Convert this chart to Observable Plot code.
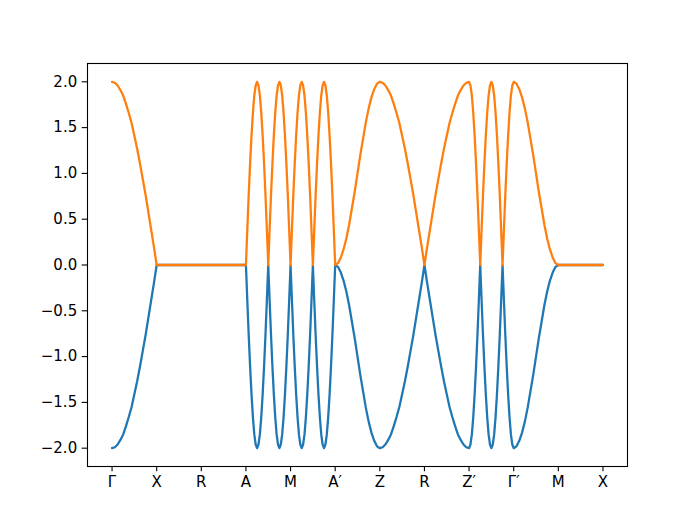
<!DOCTYPE html>
<html>
<head>
<meta charset="utf-8">
<script src="https://cdn.jsdelivr.net/npm/d3@7"></script>
<script src="https://cdn.jsdelivr.net/npm/@observablehq/plot@0.6"></script>
<style>
  html, body { margin: 0; padding: 0; background: white; }
</style>
</head>
<body>
<div id="chart"></div>
<script>
// High-symmetry path labels (one per tick, equally spaced)
const tickLabels = ["Γ", "X", "R", "A", "M", "A′", "Z", "R", "Z′", "Γ′", "M", "X"];
const yTicks = [-2, -1.5, -1, -0.5, 0, 0.5, 1, 1.5, 2];

// Upper band (orange): values along each path segment, evenly sampled within the segment
const upperBand = [
  [2.00,1.99,1.96,1.91,1.85,1.76,1.66,1.55,1.41,1.27,1.11,0.94,0.77,0.58,0.39,0.20,0.00],
  [0.00,0.00],
  [0.00,0.00],
  [0.00,0.39,0.77,1.11,1.41,1.66,1.85,1.96,2.00,1.96,1.85,1.66,1.41,1.11,0.77,0.39,0.00,0.39,0.77,1.11,1.41,1.66,1.85,1.96,2.00,1.96,1.85,1.66,1.41,1.11,0.77,0.39,0.00],
  [0.00,0.39,0.77,1.11,1.41,1.66,1.85,1.96,2.00,1.96,1.85,1.66,1.41,1.11,0.77,0.39,0.00,0.39,0.77,1.11,1.41,1.66,1.85,1.96,2.00,1.96,1.85,1.66,1.41,1.11,0.77,0.39,0.00],
  [0.00,0.02,0.08,0.17,0.29,0.44,0.62,0.80,1.00,1.20,1.38,1.56,1.71,1.83,1.92,1.98,2.00],
  [2.00,1.99,1.96,1.91,1.85,1.76,1.66,1.55,1.41,1.27,1.11,0.94,0.77,0.58,0.39,0.20,0.00],
  [0.00,0.20,0.39,0.58,0.77,0.94,1.11,1.27,1.41,1.55,1.66,1.76,1.85,1.91,1.96,1.99,2.00],
  [2.00,1.96,1.85,1.66,1.41,1.11,0.77,0.39,0.00,0.39,0.77,1.11,1.41,1.66,1.85,1.96,2.00,1.96,1.85,1.66,1.41,1.11,0.77,0.39,0.00,0.39,0.77,1.11,1.41,1.66,1.85,1.96,2.00],
  [2.00,1.98,1.92,1.83,1.71,1.56,1.38,1.20,1.00,0.80,0.62,0.44,0.29,0.17,0.08,0.02,0.00],
  [0.00,0.00]
];

// Lower band (blue)
const lowerBand = [
  [-2.00,-1.99,-1.96,-1.91,-1.85,-1.76,-1.66,-1.55,-1.41,-1.27,-1.11,-0.94,-0.77,-0.58,-0.39,-0.20,0.00],
  [0.00,0.00],
  [0.00,0.00],
  [0.00,-0.39,-0.77,-1.11,-1.41,-1.66,-1.85,-1.96,-2.00,-1.96,-1.85,-1.66,-1.41,-1.11,-0.77,-0.39,0.00,-0.39,-0.77,-1.11,-1.41,-1.66,-1.85,-1.96,-2.00,-1.96,-1.85,-1.66,-1.41,-1.11,-0.77,-0.39,0.00],
  [0.00,-0.39,-0.77,-1.11,-1.41,-1.66,-1.85,-1.96,-2.00,-1.96,-1.85,-1.66,-1.41,-1.11,-0.77,-0.39,0.00,-0.39,-0.77,-1.11,-1.41,-1.66,-1.85,-1.96,-2.00,-1.96,-1.85,-1.66,-1.41,-1.11,-0.77,-0.39,0.00],
  [0.00,-0.02,-0.08,-0.17,-0.29,-0.44,-0.62,-0.80,-1.00,-1.20,-1.38,-1.56,-1.71,-1.83,-1.92,-1.98,-2.00],
  [-2.00,-1.99,-1.96,-1.91,-1.85,-1.76,-1.66,-1.55,-1.41,-1.27,-1.11,-0.94,-0.77,-0.58,-0.39,-0.20,0.00],
  [0.00,-0.20,-0.39,-0.58,-0.77,-0.94,-1.11,-1.27,-1.41,-1.55,-1.66,-1.76,-1.85,-1.91,-1.96,-1.99,-2.00],
  [-2.00,-1.96,-1.85,-1.66,-1.41,-1.11,-0.77,-0.39,0.00,-0.39,-0.77,-1.11,-1.41,-1.66,-1.85,-1.96,-2.00,-1.96,-1.85,-1.66,-1.41,-1.11,-0.77,-0.39,0.00,-0.39,-0.77,-1.11,-1.41,-1.66,-1.85,-1.96,-2.00],
  [-2.00,-1.98,-1.92,-1.83,-1.71,-1.56,-1.38,-1.20,-1.00,-0.80,-0.62,-0.44,-0.29,-0.17,-0.08,-0.02,0.00],
  [0.00,0.00]
];

// Turn per-segment samples into (path position, energy) points
function toPoints(band) {
  const pts = [];
  band.forEach((vals, seg) => {
    const n = vals.length - 1;
    vals.forEach((v, j) => pts.push({x: seg + j / n, y: v}));
  });
  return pts;
}
const upperPts = toPoints(upperBand);
const lowerPts = toPoints(lowerBand);

const fmt = d => d.toFixed(1).replace("-", "\u2212");

const chart = Plot.plot({
  width: 697,
  height: 523,
  marginLeft: 87,
  marginRight: 70,
  marginTop: 63,
  marginBottom: 57,
  style: {fontFamily: "DejaVu Sans", fontSize: "15px", background: "white", color: "black"},
  x: {domain: [-0.55, tickLabels.length - 1 + 0.55]},
  y: {domain: [-2.2, 2.2]},
  marks: [
    Plot.line(lowerPts, {x: "x", y: "y", stroke: "#1f77b4", strokeWidth: 2.27}),
    Plot.line(upperPts, {x: "x", y: "y", stroke: "#ff7f0e", strokeWidth: 2.27}),
    Plot.frame({stroke: "black", strokeWidth: 1.1}),
    Plot.axisX({ticks: d3.range(tickLabels.length), tickFormat: i => tickLabels[i], tickSize: 5.3, tickPadding: 5, strokeWidth: 1.1, label: null, fontSize: 15}),
    Plot.axisY({ticks: yTicks, tickFormat: fmt, tickSize: 5.3, tickPadding: 5, strokeWidth: 1.1, label: null, fontSize: 15})
  ]
});
document.getElementById("chart").appendChild(chart);
</script>
</body>
</html>
